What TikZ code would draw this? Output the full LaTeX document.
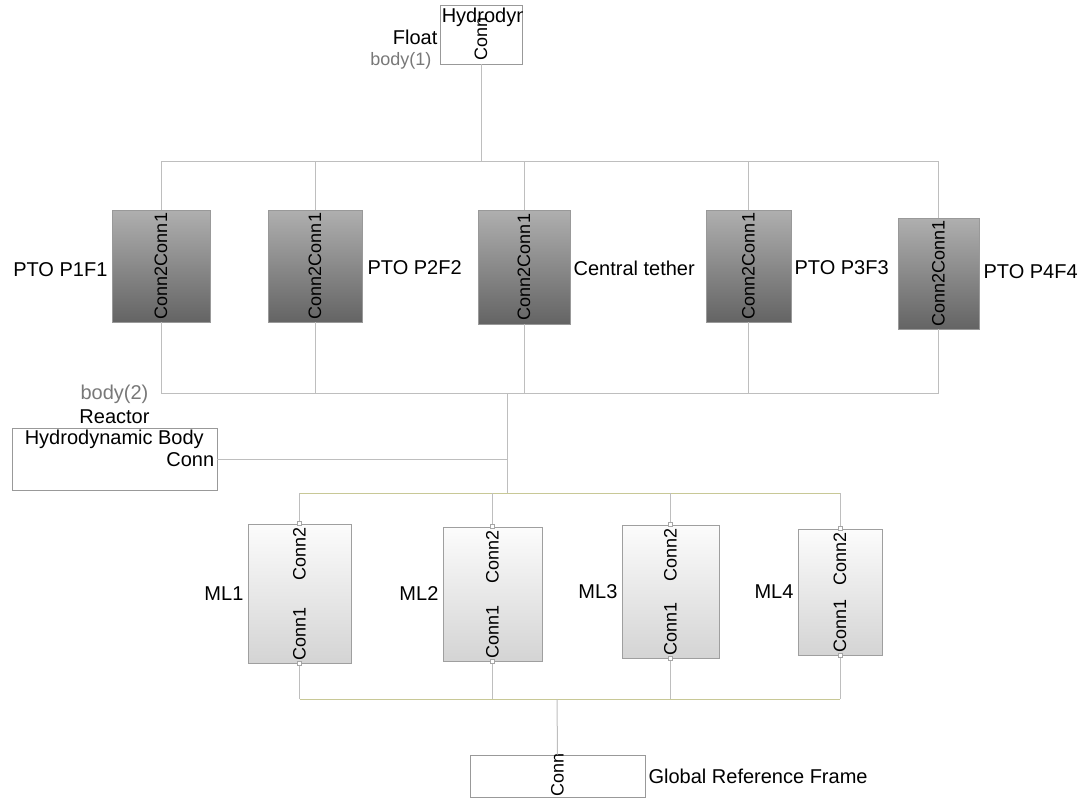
\documentclass[tikz,border=0pt]{standalone}
\usepackage{fontspec}
\setmainfont{Liberation Sans}
\usetikzlibrary{
  	positioning,
  	calc
  }

\definecolor{wire}{RGB}{190,190,190}
\definecolor{wireb}{RGB}{200,200,150}
\definecolor{ptotop}{RGB}{175,175,175}
\definecolor{ptobot}{RGB}{100,100,100}
\definecolor{mltop}{RGB}{252,252,252}
\definecolor{mlbot}{RGB}{212,212,212}
\definecolor{subtxt}{RGB}{120,120,120}

\begin{document}
\begin{tikzpicture}[x=1pt, y=-1pt,
    every node/.style={inner sep=0pt, font=\fontsize{20}{22}\selectfont},
    conntxt/.style={rotate=90, font=\fontsize{18}{20}\selectfont},
    ptoblock/.style={draw=gray!80, line width=.8pt, top color=ptotop, bottom color=ptobot},
    mlblock/.style={draw=gray!75, line width=.8pt, top color=mltop, bottom color=mlbot},
    bodybox/.style={draw=gray!80, line width=.8pt, fill=white},
    port/.style={draw=gray!70, fill=white, minimum size=4pt, line width=.5pt},
    sublab/.style={text=subtxt},
    wireline/.style={draw=wire, line width=1pt}]
	\useasboundingbox (0,0) rectangle (1085,798);
%
	\node[bodybox, minimum width=82pt, minimum height=59pt] (float) at (481,34.5) {};
	\begin{scope}
		\clip (float.south west) rectangle (float.north east);
		\node[anchor=north west] (floathd) at ($(float.north west)+(2,3)$) {Hydrodynamic Body};
	\end{scope}
	\node[conntxt, anchor=west] (floatconn) at ($(float.south)+(0,-4)$) {Conn};
	\node[anchor=east] (floatlab) at ($(float.west)+(-2,3)$) {Float};
	\node[sublab, anchor=east, font=\fontsize{18}{20}\selectfont] (body1) at ($(float.south west)+(-8,-4)$) {body(1)};
%
	\node[ptoblock, minimum width=98pt, minimum height=112pt] (P1) at (161,266) {};
	\node[ptoblock, minimum width=94pt, minimum height=112pt] (P2) at (315,266) {};
	\node[ptoblock, minimum width=92pt, minimum height=114pt] (Pc) at (524,267) {};
	\node[ptoblock, minimum width=85pt, minimum height=112pt] (P3) at (748.5,266) {};
	\node[ptoblock, minimum width=81pt, minimum height=111pt] (P4) at (938.5,273.5) {};
	\foreach \p in {P1,P2,Pc,P3,P4}
		\node[conntxt] (\p txt) at (\p) {Conn2Conn1};
	\node[left=4pt of P1, yshift=-4pt] (P1lab) {PTO P1F1};
	\node[right=5pt of P2, yshift=-2pt] (P2lab) {PTO P2F2};
	\node[right=3pt of Pc, yshift=-1pt] (Pclab) {Central tether};
	\node[right=3pt of P3, yshift=-2pt] (P3lab) {PTO P3F3};
	\node[right=4pt of P4, yshift=2pt] (P4lab) {PTO P4F4};
%
	\node[bodybox, minimum width=205pt, minimum height=62pt] (reactor) at (114.5,459) {};
	\node[anchor=north west] (reactorhd) at ($(reactor.north west)+(13,2)$) {Hydrodynamic Body};
	\node[anchor=east] (reactorconn) at ($(reactor.east)+(-3,1)$) {Conn};
	\node[above=4pt of reactor] (reactorlab) {Reactor};
	\node[sublab, above=5pt of reactorlab] (body2) {body(2)};
%
	\node[mlblock, minimum width=103pt, minimum height=139pt] (ML1) at (299.5,593.5) {};
	\node[mlblock, minimum width=99pt, minimum height=134pt] (ML2) at (492.5,594) {};
	\node[mlblock, minimum width=97pt, minimum height=133pt] (ML3) at (670.5,591.5) {};
	\node[mlblock, minimum width=84pt, minimum height=126pt] (ML4) at (840,592) {};
	\foreach \m in {ML1,ML2,ML3,ML4} {
		\node[conntxt, anchor=east] (\m c2) at ($(\m.north)+(0,4)$) {Conn2};
		\node[conntxt, anchor=west] (\m c1) at ($(\m.south)+(0,-3)$) {Conn1};
		\node[left=4pt of \m] (\m lab) {\m};
	}
%
	\node[bodybox, minimum width=175pt, minimum height=42pt] (global) at (557.5,776) {};
	\node[conntxt, anchor=west] (globalconn) at ($(global.south)+(0,-1)$) {Conn};
	\node[right=3pt of global] (globallab) {Global Reference Frame};
%
	% busses
	\coordinate (tbus) at (0,161);
	\coordinate (bbus) at (0,393);
	\coordinate (mbus) at (0,493);
	\coordinate (gbus) at (0,699);
	\coordinate (j1) at (507,393);
	\coordinate (j2) at (557,699);
%
	\draw[wireline] (float.south) -- (float.south |- tbus);
	\draw[wireline] (P1.north |- tbus) -- (P4.north |- tbus);
	\draw[wireline] (P1.south |- bbus) -- (P4.south |- bbus);
	\foreach \p in {P1,P2,Pc,P3,P4} {
		\draw[wireline] (\p.north) -- (\p.north |- tbus);
		\draw[wireline] (\p.south) -- (\p.south |- bbus);
	}
	\draw[wireline] (j1) -- (j1 |- mbus);
	\draw[wireline] (reactor.east) -- (j1 |- reactor.east);
	\draw[wireline, draw=wireb] (ML1.north |- mbus) -- (ML4.north |- mbus);
	\draw[wireline, draw=wireb] (ML1.south |- gbus) -- (ML4.south |- gbus);
	\foreach \m in {ML1,ML2,ML3,ML4} {
		\draw[wireline] (\m.north) -- (\m.north |- mbus);
		\draw[wireline] (\m.south) -- (\m.south |- gbus);
		\node[port] (\m pn) at (\m.north) {};
		\node[port] (\m ps) at (\m.south) {};
	}
	\draw[wireline] (j2) -- (global.north);
\end{tikzpicture}
\end{document}
